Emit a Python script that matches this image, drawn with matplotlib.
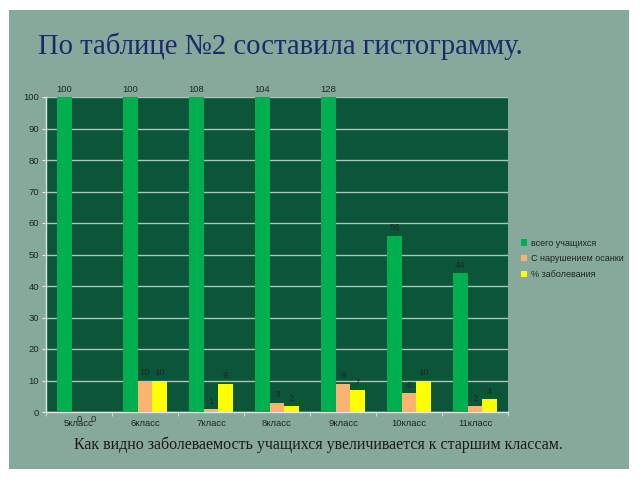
import matplotlib
matplotlib.use("Agg")
import matplotlib.pyplot as plt
from matplotlib.patches import Rectangle
import numpy as np

plt.rcParams["font.family"] = ["Liberation Sans", "DejaVu Sans"]

categories = ["5класс", "6класс", "7класс", "8класс", "9класс", "10класс", "11класс"]
total = [100, 100, 108, 104, 128, 56, 44]
posture = [0, 10, 1, 3, 9, 6, 2]
disease = [0, 10, 9, 2, 7, 10, 4]
series_names = ["всего учащихся", "С нарушением осанки", "% заболевания"]
colors = ["#00b050", "#f9b471", "#ffff00"]

fig = plt.figure(figsize=(6.4, 4.8), dpi=100)
fig.patch.set_facecolor("white")
fig.patches.append(Rectangle((9/640, 11/480), 620/640, 459/480, transform=fig.transFigure,
                             facecolor="#86a99b", edgecolor="none", zorder=-10))

ax = fig.add_axes([46/640, 68/480, 462/640, 315/480])
ax.set_facecolor("#0b5539")

x = np.arange(len(categories))
w = 0.22
ymax = 100
lab_col = "#1a2a20"
for k, (vals, c) in enumerate(zip([total, posture, disease], colors)):
    off = (k - 1) * w
    shown = [min(v, ymax) for v in vals]
    ax.bar(x + off, shown, w, color=c, label=series_names[k], zorder=3)
    for xi, v, s in zip(x, vals, shown):
        if v == 0:
            ax.text(xi + off, -0.8, str(v), ha="center", va="top", fontsize=6.8, color=lab_col, zorder=4,
                    clip_on=False)
        else:
            ax.text(xi + off, s + 1.0, str(v), ha="center", va="bottom", fontsize=6.8,
                    color=lab_col, zorder=4, clip_on=False)

ax.set_ylim(0, ymax)
ax.set_xlim(-0.5, len(categories) - 0.5)
ax.set_yticks(np.arange(0, 101, 10))
ax.yaxis.grid(True, color="#a9c7b9", lw=1.0, zorder=1)
ax.set_axisbelow(True)
ax.set_xticks(x)
ax.set_xticklabels(categories, fontsize=6.8, color=lab_col)
ax.set_xticks(np.arange(-0.5, len(categories), 1.0), minor=True)
ax.tick_params(axis="x", which="major", length=0, pad=5)
ax.tick_params(axis="x", which="minor", length=3, color="#dfe9e4", direction="out")
ax.tick_params(axis="y", length=3, color="#dfe9e4", labelsize=6.8, labelcolor=lab_col, pad=2)
for s in ["top", "right"]:
    ax.spines[s].set_visible(False)
for s in ["left", "bottom"]:
    ax.spines[s].set_color("#dfe9e4")
    ax.spines[s].set_linewidth(1.0)

leg = ax.legend(loc="center left", bbox_to_anchor=(1.02, 0.486), frameon=False, fontsize=6.5,
                handlelength=0.7, handleheight=0.7, handletextpad=0.4, labelspacing=0.75,
                borderaxespad=0)
for t in leg.get_texts():
    t.set_color(lab_col)

fig.text(38/640, 1 - 46/480, "По таблице №2 составила гистограмму.", family="Liberation Serif",
         fontsize=20.6, color="#1c2a6a", ha="left", va="center")
fig.text(318/640, 1 - 445/480, "Как видно заболеваемость учащихся увеличивается к старшим классам.",
         family="Liberation Serif", fontsize=11.5, color="#1a1a1a", ha="center", va="center")

fig.savefig("out.png", dpi=100, facecolor=fig.get_facecolor())
